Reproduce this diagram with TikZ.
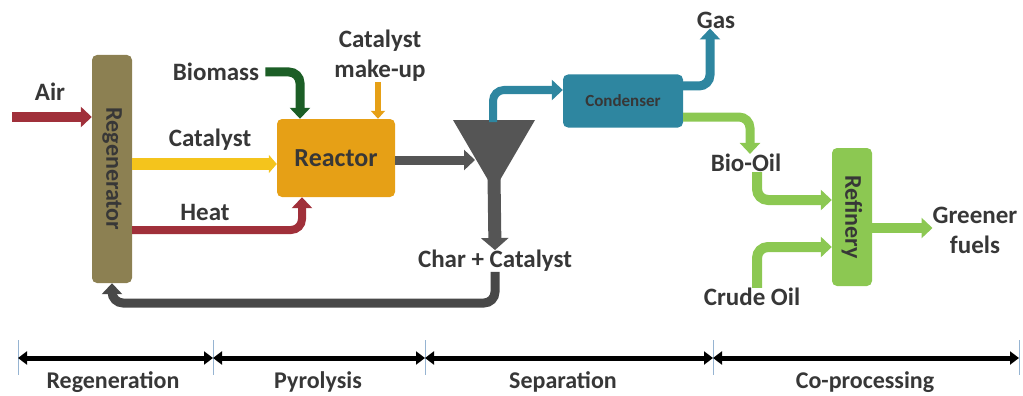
\documentclass[tikz,border=0pt]{standalone}
\usepackage{fontspec}
\setmainfont{Carlito}
\usetikzlibrary{arrows.meta,positioning}

\definecolor{txt}{RGB}{55,55,55}
\definecolor{regcol}{RGB}{140,128,82}
\definecolor{airred}{RGB}{160,48,58}
\definecolor{catyel}{RGB}{244,196,28}
\definecolor{reaccol}{RGB}{230,160,22}
\definecolor{biogreen}{RGB}{28,94,38}
\definecolor{darkgray}{RGB}{85,85,85}
\definecolor{tealc}{RGB}{46,134,160}
\definecolor{lgreen}{RGB}{140,200,82}
\definecolor{tickc}{RGB}{150,180,210}

\tikzset{
  lbl/.style={inner sep=0pt, text=txt, font=\bfseries\fontsize{25}{30}\selectfont, align=center},
  unit/.style={inner sep=0pt, rounded corners=5pt, font=\bfseries\fontsize{26}{30}\selectfont, text=txt},
  vlbl/.style={lbl, rotate=-90, font=\bfseries\fontsize{24}{28}\selectfont},
  phase/.style={lbl, font=\bfseries\fontsize{24}{28}\selectfont},
  flow/.style={line width=9pt, rounded corners=11pt, -{Triangle[width=20pt,length=11pt]}},
  span/.style={line width=5pt, {Triangle[width=13pt,length=9pt]}-{Triangle[width=13pt,length=9pt]}},
}

\begin{document}
\begin{tikzpicture}
[x=1pt, y=-1pt]
\useasboundingbox (0,0) rectangle (1023,396);
% units
\node (reg) [unit, fill=regcol, minimum width=40pt, minimum height=228pt] at (112,169) {};
\node [vlbl] at (reg) {Regenerator};
\node (reac) [unit, fill=reaccol, minimum width=118pt, minimum height=78pt] at (336,158) {Reactor};
\node (cond) [unit, fill=tealc, minimum width=120pt, minimum height=53pt, font=\bfseries\fontsize{17}{20}\selectfont] at (623,101) {Condenser};
\node (ref) [unit, fill=lgreen, minimum width=40pt, minimum height=138pt] at (852,217) {};
\node [vlbl] at (ref) {Refinery};
% funnel
\fill [darkgray] (453,120) -- (535,120) -- (500,180) -- (488,180) -- cycle;
\coordinate (fun) at (494,176);
\coordinate (funtop) at (493,122);
% labels
\node (air) [lbl] at (50,92) {Air};
\node (bio) [lbl] at (216,72) {Biomass};
\node (mk) [lbl] at (380,56) {Catalyst\\make-up};
\node [lbl] at (210,140) {Catalyst};
\node [lbl] at (205,212) {Heat};
\node (char) [lbl] at (495,261) {Char + Catalyst};
\node (gas) [lbl] at (716,20) {Gas};
\node (boil) [lbl] at (746,163) {Bio-Oil};
\node (crude) [lbl] at (752,297) {Crude Oil};
\node (green) [lbl] at (975,230) {Greener\\fuels};
% flows
\draw [flow, airred, line width=10pt] (12,117) -- (reg.west |- 0,117);
\draw [flow, biogreen] (bio.east) ++(6,0) -| (reac.north -| 300,0);
\draw [flow, reaccol, line width=6pt, -{Triangle[width=14pt,length=8pt]}] (mk.south -| 378,0) -- (reac.north -| 378,0);
\draw [flow, catyel, line width=12pt, -{Triangle[width=18pt,length=8pt]}] (reg.east |- 0,164) -- (reac.west |- 0,164);
\draw [flow, airred, line width=8pt] (reg.east |- 0,230) -| (reac.south -| 302,0);
\draw [flow, darkgray] (reac.east |- 0,160) -- (475,160);
\draw [flow, darkgray, line width=13pt, -{Triangle[width=27pt,length=12pt]}] (fun) -- (char.north);
\draw [flow, tealc, line width=8pt] (funtop) |- (cond.west |- 0,90);
\draw [flow, tealc, line width=9pt] (cond.east |- 0,86) -| (gas.south -| 710,0);
\draw [flow, lgreen] (cond.east |- 0,117) -| (boil.north -| 750,0);
\draw [flow, lgreen, line width=10pt] (boil.south -| 757,0) |- (ref.west |- 0,200);
\draw [flow, lgreen, line width=10pt] (crude.north -| 757,0) |- (ref.west |- 0,247);
\draw [flow, lgreen, line width=10pt] (ref.east |- 0,228) -- (green.west |- 0,228);
\draw [flow, darkgray!85!black] (char.south) |- (112,303) -- (reg.south -| 112,0);
% phases
\foreach \x in {18,213,425,713,1019}
  \draw [tickc, line width=0.8pt] (\x,340) -- (\x,375);
\coordinate (p0) at (18,358);
\coordinate (p1) at (213,358);
\coordinate (p2) at (425,358);
\coordinate (p3) at (713,358);
\coordinate (p4) at (1019,358);
\draw [span] (p0) -- (p1);
\draw [span] (p1) -- (p2);
\draw [span] (p2) -- (p3);
\draw [span] (p3) -- (p4);
\node [phase] at (113,382) {Regeneration};
\node [phase] at (318,382) {Pyrolysis};
\node [phase] at (563,382) {Separation};
\node [phase] at (865,382) {Co-processing};
\end{tikzpicture}
\end{document}
